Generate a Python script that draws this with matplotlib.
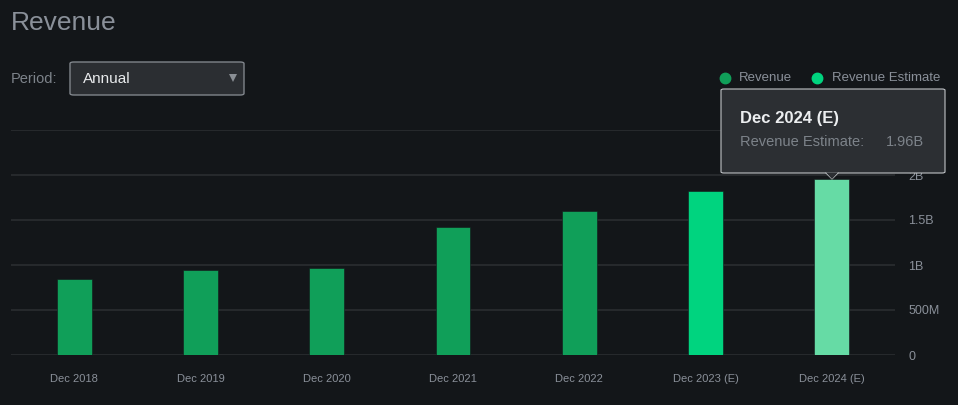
import matplotlib.pyplot as plt
import numpy as np
from matplotlib.patches import FancyBboxPatch, Polygon
from matplotlib.lines import Line2D

plt.rcParams['font.family'] = ['Liberation Sans', 'DejaVu Sans']

# datos
periods = ['Dec 2018', 'Dec 2019', 'Dec 2020', 'Dec 2021', 'Dec 2022',
           'Dec 2023 (E)', 'Dec 2024 (E)']
revenue = [0.84, 0.95, 0.97, 1.42, 1.60, 1.82, 1.96]  # miles de millones
is_estimate = [False, False, False, False, False, True, True]
y_ticks = [0, 0.5, 1.0, 1.5, 2.0, 2.5]
y_labels = ['0', '500M', '1B', '1.5B', '2B', '']

BG = '#131619'
GRID = '#2a2d31'
TXT = '#8a9099'
C_REV = '#109f59'
C_EST = '#00d47f'
C_HI = '#66dba5'

W, H = 958, 405
fig = plt.figure(figsize=(W / 100, H / 100), dpi=100, facecolor=BG)

def fx(x):
    return x / W

def fy(y):
    return 1 - y / H

ax = fig.add_axes([fx(11), fy(355), fx(895) - fx(11), fy(130) - fy(355)])
ax.set_facecolor(BG)

x = np.arange(len(periods))
colors = [C_EST if e else C_REV for e in is_estimate]
colors[-1] = C_HI  # barra resaltada
ax.bar(x, revenue, width=35 / 126.3, color=colors, edgecolor=BG, linewidth=0.4, zorder=3)

ax.set_xlim(-0.5, len(periods) - 0.5)
ax.set_ylim(0, 2.5)
ax.set_yticks(y_ticks)
ax.set_yticklabels(y_labels)
ax.yaxis.tick_right()
ax.grid(axis='y', color=GRID, linewidth=1.2, zorder=0)
ax.set_xticks(x)
ax.set_xticklabels(periods)
ax.tick_params(axis='x', length=0, pad=14, labelsize=8, labelcolor=TXT)
ax.tick_params(axis='y', length=0, pad=9.5, labelsize=9, labelcolor=TXT)
for lbl in ax.get_yticklabels():
    lbl.set_horizontalalignment('left')
for s in ax.spines.values():
    s.set_visible(False)

# título y selector
fig.text(fx(11), fy(23), 'Revenue', fontsize=19, color=TXT, va='center')
fig.text(fx(11), fy(79), 'Period:', fontsize=10.5, color='#7d838a', va='center')
fig.patches.append(FancyBboxPatch((fx(70), fy(95)), fx(244) - fx(70), fy(62) - fy(95),
                                  boxstyle='round,pad=0,rounding_size=0.004',
                                  transform=fig.transFigure, facecolor='#2b2e32',
                                  edgecolor='#80858b', linewidth=1))
fig.text(fx(83), fy(79), 'Annual', fontsize=11, color='#e8eaec', va='center')
fig.patches.append(Polygon([(fx(229), fy(74)), (fx(237), fy(74)), (fx(233), fy(82))],
                           closed=True, transform=fig.transFigure, facecolor='#8a8f95',
                           edgecolor='none'))

# leyenda
fig.add_artist(Line2D([fx(725)], [fy(78)], marker='o', markersize=7.5, color=C_REV,
                      transform=fig.transFigure, linestyle='none'))
fig.text(fx(739), fy(78), 'Revenue', fontsize=9.5, color=TXT, va='center')
fig.add_artist(Line2D([fx(817)], [fy(78)], marker='o', markersize=7.5, color=C_EST,
                      transform=fig.transFigure, linestyle='none'))
fig.text(fx(832), fy(78), 'Revenue Estimate', fontsize=9.5, color=TXT, va='center')

# tooltip
fig.patches.append(FancyBboxPatch((fx(721), fy(173)), fx(945) - fx(721), fy(89) - fy(173),
                                  boxstyle='round,pad=0,rounding_size=0.003',
                                  transform=fig.transFigure, facecolor='#2c2f33',
                                  edgecolor='#c0c3c6', linewidth=0.8, zorder=5))
fig.patches.append(Polygon([(fx(826), fy(172.5)), (fx(838), fy(172.5)), (fx(832), fy(179))],
                           closed=True, transform=fig.transFigure, facecolor='#2c2f33',
                           edgecolor='none', zorder=6))
fig.add_artist(Line2D([fx(826), fx(832), fx(838)], [fy(173), fy(179), fy(173)],
                      color='#c0c3c6', linewidth=0.8, transform=fig.transFigure, zorder=6))
fig.text(fx(740), fy(119), periods[-1], fontsize=12, fontweight='bold', color='#eceef0',
         va='center', zorder=7)
fig.text(fx(740), fy(142), 'Revenue Estimate:', fontsize=10.5, color='#7d838a',
         va='center', zorder=7)
fig.text(fx(924), fy(142), f'{revenue[-1]:.2f}B', fontsize=10.5, color='#7d838a',
         va='center', ha='right', zorder=7)

fig.savefig('out.png', dpi=100, facecolor=BG)
